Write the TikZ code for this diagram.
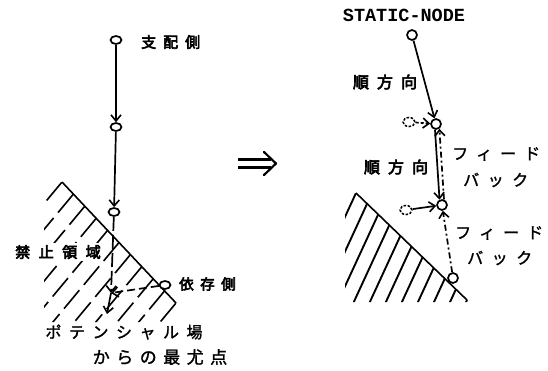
\documentclass[tikz,border=0pt]{standalone}
\usepackage{fontspec}
\setmonofont{Liberation Mono}
\newfontfamily\cjk[FakeBold=1.5]{Noto Sans CJK JP}
\newfontfamily\cjkb[FakeBold=4]{Noto Sans CJK JP}
\usetikzlibrary{arrows.meta,shapes.geometric}
\newcommand\spaced[2]{\def\lsgap{#1}\lsloop#2\relax}
\def\lsloop#1#2{#1\ifx\relax#2\else\kern\lsgap\relax\expandafter\lsloop\fi#2}
\tikzset{
  pt/.style={ellipse,draw,line width=1.7pt,minimum width=11pt,minimum height=8pt,inner sep=0pt,fill=white},
  rpt/.style={circle,draw,line width=1.7pt,minimum size=10pt,inner sep=0pt,fill=white},
  ghostpt/.style={ellipse,draw,line width=1.5pt,dash pattern=on 2.5pt off 1.5pt,minimum width=12pt,minimum height=9pt,inner sep=0pt},
  arr/.style={line width=1.7pt,-{Straight Barb[length=6pt,width=10pt,line width=1.6pt]}},
  dashdotline/.style={dash pattern=on 6pt off 3pt on 2pt off 3pt},
  boldlab/.style={font=\cjkb\fontsize{15}{15}\selectfont,inner sep=0pt},
  lab/.style={font=\cjk\fontsize{16}{16}\selectfont,inner sep=0pt},
}
\begin{document}
\begin{tikzpicture}[x=1pt,y=-1pt]
\useasboundingbox (0,0) rectangle (548,370);
% ---------- left hatching ----------
\begin{scope}
  \clip (62,182) -- (178,305) -- (178,322) -- (44,322) -- (44,182) -- cycle;
  \foreach \t in {0,...,10}{
    \draw[line width=1.6pt,dash pattern=on 24pt off 7pt]
      (62+11.4*\t,182+12.1*\t) -- ++(-0.64*110,0.77*110);
  }
\end{scope}
\draw[line width=1.6pt] (62,182) -- (176,303);
% ---------- right hatching ----------
\begin{scope}
  \clip (356,193) -- (470,302) -- (345,302) -- (345,193) -- cycle;
  \foreach \t in {0,...,10}{
    \draw[line width=1.9pt] (356+11.1*\t,193+10.7*\t) -- ++(-0.42*130,0.91*130);
  }
\end{scope}
\draw[line width=1.6pt] (356,193) -- (467,300);
% ---------- left diagram ----------
\node[pt] (a) at (116,40) {};
\node[pt] (b) at (116,127) {};
\node[pt] (c) at (114,212) {};
\node[pt] (h) at (165,285) {};
\coordinate (p) at (111,293);
\coordinate (q) at (107,314);
\draw[arr] (a) -- (b);
\draw[arr] (b) -- (c);
\draw[arr,dash pattern=on 14pt off 4pt] (c) -- (p);
\draw[arr,dash pattern=on 8pt off 4pt] (h) -- (p);
\draw[arr] (p) -- (q);
\node[boldlab,anchor=west] (l1) at (141,42) {\spaced{7pt}{支配側}};
\node[boldlab,fill=white,inner sep=2pt] (l2) at (58,252) {\spaced{8.5pt}{禁止領域}};
\node[boldlab,anchor=west,font=\cjkb\fontsize{14.5}{14.5}\selectfont] (l3) at (179,284) {\spaced{6.5pt}{依存側}};
\node[lab] (l4) at (124,332) {\spaced{7.5pt}{ポテンシャル場}};
\node[lab,font=\cjk\fontsize{17}{17}\selectfont] (l5) at (160,357) {\spaced{6.5pt}{からの最尤点}};
% ---------- implication arrow ----------
\draw[line width=2.2pt] (238,159.5) -- (271,159.5);
\draw[line width=2.2pt] (238,167.5) -- (271,167.5);
\draw[line width=2.2pt,line cap=round,line join=round] (264,152) -- (276,163.5) -- (264,175);
% ---------- right diagram ----------
\node[font=\ttfamily\bfseries\fontsize{18.5}{18.5}\selectfont,inner sep=0pt] (st) at (404,15) {STATIC-NODE};
\node[rpt] (d) at (412,35) {};
\node[rpt] (e) at (436,124) {};
\node[ghostpt] (e0) at (409,122) {};
\node[rpt] (f) at (442,205) {};
\node[ghostpt] (f0) at (406,210) {};
\node[rpt] (g) at (453,278) {};
\draw[arr] (d) -- (e);
\draw[arr,dash pattern=on 3pt off 2pt] (e0) -- (e);
\draw[arr] (e.-100) -- (f.115);
\draw[arr,dashdotline] (f.70) -- (e.-55);
\draw[arr] (f0) -- (f);
\draw[arr,dashdotline] (g) -- (f);
\node[boldlab,font=\cjkb\fontsize{16}{16}\selectfont] (r1) at (385,82) {\spaced{8pt}{順方向}};
\node[boldlab,font=\cjkb\fontsize{16}{16}\selectfont] (r2) at (396,167) {\spaced{8pt}{順方向}};
\node[lab,anchor=west] (r3) at (452,154) {\spaced{8pt}{フィード}};
\node[lab,anchor=west] (r4) at (463,180) {\spaced{8.5pt}{バック}};
\node[lab,anchor=west] (r5) at (455,233) {\spaced{8pt}{フィード}};
\node[lab,anchor=west] (r6) at (467,258) {\spaced{8.5pt}{バック}};
\end{tikzpicture}
\end{document}
